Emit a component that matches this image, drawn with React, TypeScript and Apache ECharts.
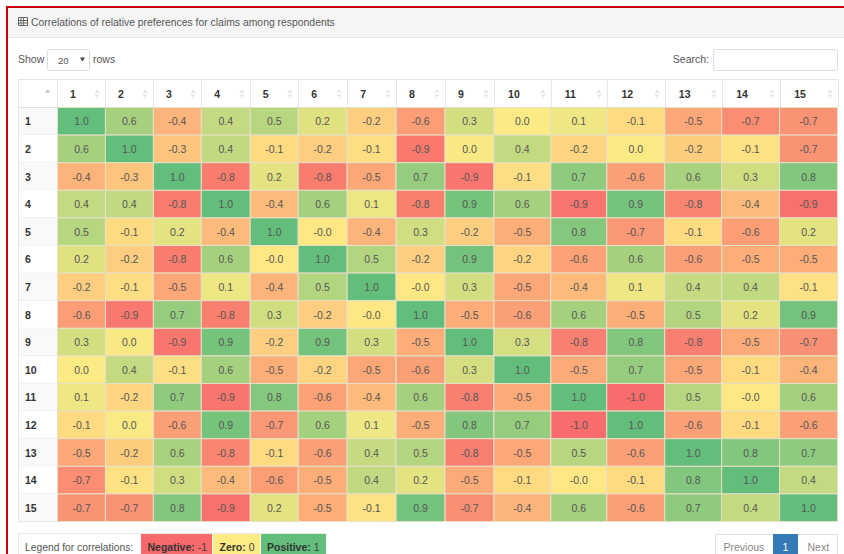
import React, { useEffect, useRef } from "react";
import * as echarts from "echarts";

const colLabels = ["1","2","3","4","5","6","7","8","9","10","11","12","13","14","15"];
const rowLabels = colLabels;
const colWidths = [48,48,48,49,48,49,49,49,49,57,56,58,57,58,58];

const row1 = [1,.58,-.42,.38,.47,.20,-.22,-.60,.28,.02,.10,-.13,-.52,-.72,-.68];
const row2 = [.58,1,-.30,.40,-.13,-.22,-.10,-.88,.04,.38,-.17,.03,-.23,-.08,-.68];
const row3 = [-.42,-.30,1,-.85,.18,-.85,-.52,.68,-.90,-.10,.72,-.58,.55,.30,.80];
const row4 = [.38,.40,-.85,1,-.38,.58,.12,-.83,.88,.58,-.90,.88,-.78,-.38,-.93];
const row5 = [.47,-.13,.18,-.38,1,-.03,-.42,.30,-.22,-.47,.78,-.65,-.12,-.60,.17];
const row6 = [.20,-.22,-.85,.58,-.03,1,.48,-.22,.90,-.18,-.57,.58,-.58,-.48,-.48];
const row7 = [-.22,-.10,-.52,.12,-.42,.48,1,-.02,.28,-.52,-.38,.10,.37,.40,-.08];
const row8 = [-.60,-.88,.68,-.83,.30,-.22,-.02,1,-.48,-.58,.58,-.47,.48,.18,.90];
const row9 = [.28,.04,-.90,.88,-.22,.90,.28,-.48,1,.27,-.82,.80,-.82,-.50,-.70];
const row10 = [.02,.38,-.10,.58,-.47,-.18,-.52,-.58,.27,1,-.50,.68,-.52,-.12,-.42];
const row11 = [.10,-.17,.72,-.90,.78,-.57,-.38,.58,-.82,-.50,1,-.98,.46,-.02,.58];
const row12 = [-.13,.03,-.58,.88,-.65,.58,.10,-.47,.80,.68,-.98,1,-.58,-.13,-.58];
const row13 = [-.52,-.23,.55,-.78,-.12,-.58,.37,.48,-.82,-.52,.46,-.58,1,.80,.72];
const row14 = [-.72,-.08,.30,-.38,-.60,-.48,.40,.18,-.50,-.12,-.02,-.13,.80,1,.38];
const row15 = [-.68,-.68,.80,-.93,.17,-.48,-.08,.90,-.70,-.42,.58,-.58,.72,.38,1];
const rows = [row1,row2,row3,row4,row5,row6,row7,row8,row9,row10,row11,row12,row13,row14,row15];

const title = "Correlations of relative preferences for claims among respondents";
const FONT = '"Liberation Sans", Arial, sans-serif';
const scaleColors = ["#F8696B", "#FFEB84", "#63BE7B"];

const GRID_L = 58, GRID_R = 838, GRID_T = 107.5, GRID_B = 521.5;
const TABLE_L = 18, HEAD_T = 79.5;

const colEdges: number[] = [0];
colWidths.forEach((w, i) => colEdges.push(colEdges[i] + w));
const labelValues = colWidths.map((w, i) => colEdges[i] + (w - 18) / 2);

function buildChrome() {
  const g: any[] = [];
  const Z = -10;
  const rect = (x: number, y: number, w: number, h: number, fill: string, stroke?: string, r = 0) =>
    g.push({ type: "rect", z: Z, silent: true, shape: { x, y, width: w, height: h, r }, style: { fill, stroke: stroke || "none", lineWidth: 1 } });
  const line = (x1: number, y1: number, x2: number, y2: number, stroke: string, lw = 1) =>
    g.push({ type: "line", z: Z, silent: true, shape: { x1, y1, x2, y2 }, style: { stroke, lineWidth: lw } });
  const text = (x: number, y: number, t: string, fill = "#555", size = 10.5, align = "left", rich?: any) =>
    g.push({ type: "text", z: Z + 1, silent: true, x, y, style: { text: t, fill, font: `${size}px ${FONT}`, align, verticalAlign: "middle", rich } });
  const tri = (points: number[][], fill: string) =>
    g.push({ type: "polygon", z: Z, silent: true, shape: { points }, style: { fill } });

  // panel frame
  rect(8, 8, 836, 29, "#f5f5f5");
  line(8, 37.5, 844, 37.5, "#e4e4e4");
  rect(6, 6, 838, 2, "#c8000a");
  rect(6, 6, 2, 548, "#c8000a");

  // panel icon
  rect(18.5, 17.5, 9, 8, "#fff", "#666");
  [20.9, 23.5].forEach((x) => line(x + 0.1, 17.5, x + 0.1, 25.5, "#666"));
  [20.5, 23].forEach((y) => line(18.5, y, 27.5, y, "#666"));
  text(31, 22, title, "#555", 10.4);

  // controls
  text(18, 59, "Show");
  rect(47.5, 49.5, 42, 21, "#fff", "#ddd", 2);
  text(58, 60, "20", "#555", 9.5);
  tri([[80, 57.5], [85, 57.5], [82.5, 61.5]], "#444");
  text(93, 59, "rows");
  text(709, 59, "Search:", "#555", 10.5, "right");
  rect(713.5, 49.5, 124, 21, "#fff", "#ddd", 2);

  // table header & row label column
  rect(TABLE_L + 0.5, HEAD_T, GRID_R - TABLE_L - 1, GRID_T - HEAD_T, "#fff");
  const rowH = (GRID_B - GRID_T) / rows.length;
  rows.forEach((_, i) => {
    rect(TABLE_L, GRID_T + i * rowH, GRID_L - TABLE_L, rowH, i % 2 === 0 ? "#f9f9f9" : "#fff");
    line(TABLE_L, GRID_T + (i + 1) * rowH, GRID_L, GRID_T + (i + 1) * rowH, "#e8e8e8");
  });
  line(TABLE_L, HEAD_T, GRID_R, HEAD_T, "#e6e6e6");
  line(TABLE_L, GRID_T, GRID_R, GRID_T, "#e0e0e0");
  line(TABLE_L, GRID_B, GRID_R, GRID_B, "#e6e6e6");
  line(TABLE_L + 0.5, HEAD_T, TABLE_L + 0.5, GRID_B, "#e6e6e6");
  colEdges.forEach((e) => line(GRID_L + e - 0.5, HEAD_T, GRID_L + e - 0.5, GRID_T, "#e6e6e6"));
  line(GRID_R - 0.5, GRID_T, GRID_R - 0.5, GRID_B, "#e6e6e6");

  // sort icons
  tri([[45, 92.5], [50.5, 92.5], [47.75, 89.5]], "#bbb");
  colEdges.slice(1).forEach((e) => {
    const x = GRID_L + e - 9;
    tri([[x - 2.6, 92.5], [x + 2.6, 92.5], [x, 89.5]], "#e4e4e4");
    tri([[x - 2.6, 94.5], [x + 2.6, 94.5], [x, 97.5]], "#e4e4e4");
  });

  // legend
  line(18, 533.5, 326, 533.5, "#e6e6e6");
  line(18.5, 533.5, 18.5, 554, "#e6e6e6");
  text(25, 547, "Legend for correlations:", "#555", 10.3);
  rect(141, 534, 71, 20, scaleColors[0]);
  rect(213, 534, 47, 20, scaleColors[1]);
  rect(261, 534, 65, 20, scaleColors[2]);
  const bold = { b: { fontWeight: "bold", fontSize: 10.5, fontFamily: FONT, fill: "#333" }, n: { fontSize: 10.5, fontFamily: FONT, fill: "#444" } };
  text(147.5, 547, "{b|Negative:}{n| -1}", "#444", 10.5, "left", bold);
  text(219.5, 547, "{b|Zero:}{n| 0}", "#444", 10.5, "left", bold);
  text(267, 547, "{b|Positive:}{n| 1}", "#444", 10.5, "left", bold);

  // pagination
  line(715.5, 535, 715.5, 554, "#e2e2e2");
  line(715.5, 534.5, 838, 534.5, "#e2e2e2");
  line(837.5, 535, 837.5, 554, "#e2e2e2");
  rect(773, 534, 25, 20, "#337ab7");
  text(723.5, 547, "Previous", "#888");
  text(785.5, 547, "1", "#fff", 10.5, "center", undefined);
  text(807.5, 547, "Next", "#888");
  return g;
}

export default function App() {
  const ref = useRef<HTMLDivElement>(null);
  useEffect(() => {
    const chart = echarts.init(ref.current!, undefined, { renderer: "svg" });
    const data: number[][] = [];
    rows.forEach((r, y) => r.forEach((v, x) => data.push([x, y, v])));
    chart.setOption({
      animation: false,
      backgroundColor: "#fff",
      graphic: { elements: buildChrome() },
      grid: {
        left: GRID_L,
        top: GRID_T,
        width: GRID_R - GRID_L,
        height: GRID_B - GRID_T,
        containLabel: false,
      },
      xAxis: {
        type: "value",
        position: "top",
        min: 0,
        max: colEdges[colEdges.length - 1],
        splitLine: { show: false },
        axisLine: { show: false },
        axisTick: { show: false },
        axisLabel: {
          show: true,
          customValues: labelValues,
          margin: 8,
          color: "#333",
          fontFamily: FONT,
          fontSize: 10.5,
          fontWeight: "bold",
          formatter: (v: number) => {
            let best = 0;
            labelValues.forEach((lv, i) => {
              if (Math.abs(lv - v) < Math.abs(labelValues[best] - v)) best = i;
            });
            return colLabels[best];
          },
        },
      },
      yAxis: {
        type: "category",
        inverse: true,
        data: rowLabels,
        axisLine: { show: false },
        axisTick: { show: false },
        splitLine: { show: false },
        axisLabel: {
          margin: GRID_L - 25,
          align: "left",
          color: "#333",
          fontFamily: FONT,
          fontSize: 10.5,
          fontWeight: "bold",
        },
      },
      visualMap: {
        show: false,
        type: "continuous",
        seriesIndex: 0,
        dimension: 2,
        min: -1,
        max: 1,
        inRange: { color: scaleColors },
      },
      series: [
        {
          type: "custom",
          coordinateSystem: "cartesian2d",
          encode: { x: 0, y: 1 },
          data,
          clip: false,
          renderItem: (_params: any, api: any) => {
            const xi = api.value(0) as number;
            const yi = api.value(1) as number;
            const v = api.value(2) as number;
            const left = api.coord([colEdges[xi], yi])[0];
            const right = api.coord([colEdges[xi + 1], yi])[0];
            const cy = api.coord([colEdges[xi], yi])[1];
            const h = api.size([0, 1])[1];
            const fill = api.visual("color");
            return {
              type: "group",
              children: [
                {
                  type: "rect",
                  shape: { x: left - 0.5, y: cy - h / 2, width: right - left, height: h },
                  style: { fill, stroke: "#e6e0c8", lineWidth: 1 },
                },
                {
                  type: "text",
                  x: (left + right) / 2 - 0.5,
                  y: cy,
                  style: {
                    text: v.toFixed(1),
                    fill: "#555",
                    font: `10.5px ${FONT}`,
                    align: "center",
                    verticalAlign: "middle",
                  },
                },
              ],
            };
          },
        },
      ],
    });
    return () => chart.dispose();
  }, []);
  return (
    <div
      ref={ref}
      style={{ position: "fixed", left: 0, top: 0, width: 844, height: 554, overflow: "hidden" }}
    />
  );
}
